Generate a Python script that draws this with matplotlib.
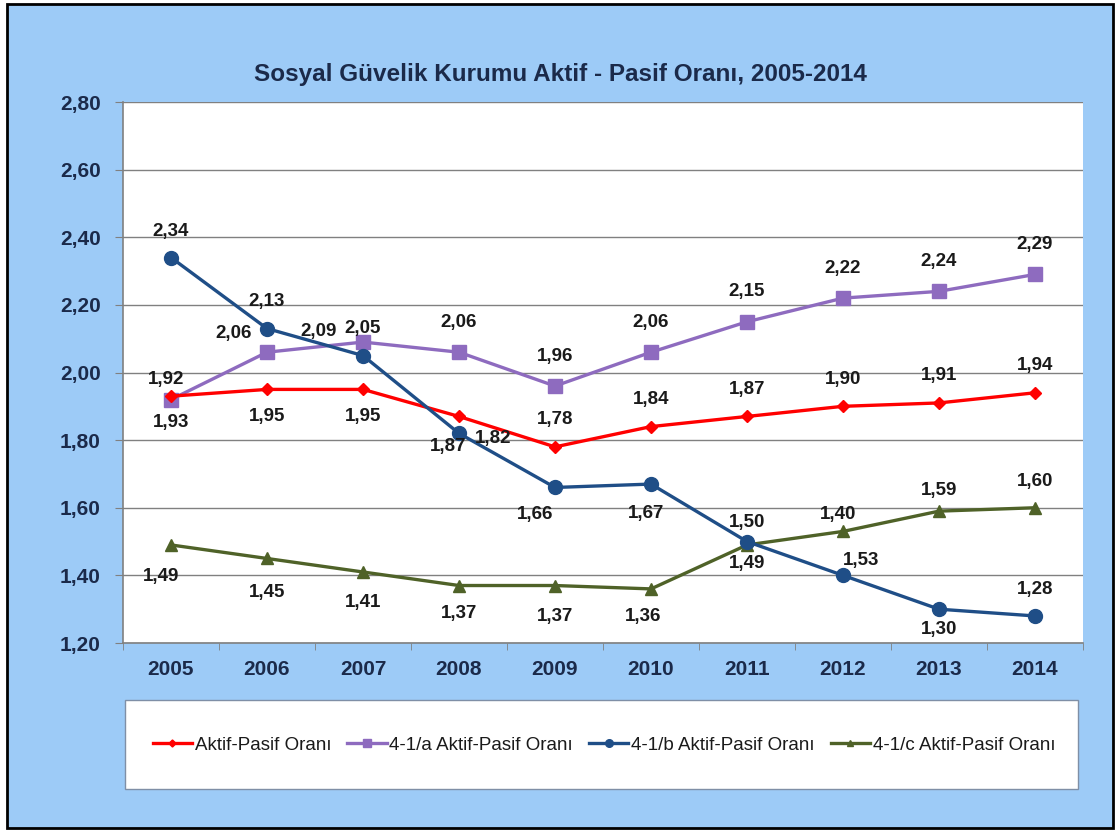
import matplotlib
matplotlib.use("Agg")
import matplotlib.pyplot as plt
from matplotlib.patches import Rectangle

years = ["2005", "2006", "2007", "2008", "2009", "2010", "2011", "2012", "2013", "2014"]
aktif_pasif = [1.93, 1.95, 1.95, 1.87, 1.78, 1.84, 1.87, 1.90, 1.91, 1.94]
a41 = [1.92, 2.06, 2.09, 2.06, 1.96, 2.06, 2.15, 2.22, 2.24, 2.29]
b41 = [2.34, 2.13, 2.05, 1.82, 1.66, 1.67, 1.50, 1.40, 1.30, 1.28]
c41 = [1.49, 1.45, 1.41, 1.37, 1.37, 1.36, 1.49, 1.53, 1.59, 1.60]
series_names = ["Aktif-Pasif Oranı", "4-1/a Aktif-Pasif Oranı",
                "4-1/b Aktif-Pasif Oranı", "4-1/c Aktif-Pasif Oranı"]
title = "Sosyal Güvelik Kurumu Aktif - Pasif Oranı, 2005-2014"
yticks = [1.20, 1.40, 1.60, 1.80, 2.00, 2.20, 2.40, 2.60, 2.80]

# label offsets in pixels (dx, dy) -- styling only
off_red = [(0, -26), (0, -27), (0, -27), (-11, -30), (0, 27), (0, 27), (0, 27), (0, 27), (0, 27), (0, 27)]
off_pur = [(-5, 20), (-33, 19), (-44, 11), (0, 30), (0, 30), (0, 30), (0, 30), (0, 30), (0, 30), (0, 30)]
off_blu = [(0, 26), (0, 27), (0, 27), (34, -5), (-20, -27), (-5, -29), (0, 19), (-5, 61), (0, -20), (0, 26)]
off_grn = [(-10, -32), (0, -34), (0, -31), (0, -28), (0, -31), (-8, -28), (0, -19), (18, -29), (0, 21), (0, 26)]

plt.rcParams['font.family'] = ['Liberation Sans', 'DejaVu Sans']

fig = plt.figure(figsize=(11.17, 8.32), dpi=100)
fig.patch.set_facecolor('white')
bg = '#9DCBF7'
fig.patches.append(Rectangle((7/1117, 4/832), 1106/1117, 824/832, transform=fig.transFigure,
                             facecolor=bg, edgecolor='black', linewidth=2, zorder=-10))
# legend box
fig.patches.append(Rectangle((125/1117, 1 - 789/832), 953/1117, 89/832, transform=fig.transFigure,
                             facecolor='white', edgecolor='#7F8FA6', linewidth=1, zorder=-5))

ax = fig.add_axes([123/1117, 1 - 643/832, 960/1117, 541/832])
ax.set_zorder(2)
ax.set_facecolor('white')
x = list(range(len(years)))

navy = '#1B2A4A'
colors = ['#FF0000', '#8E6BBF', '#1F4E87', '#4F6228']
markers = ['D', 's', 'o', '^']
msizes = [6.5, 9.5, 10, 8.5]
data = [aktif_pasif, a41, b41, c41]
offs = [off_red, off_pur, off_blu, off_grn]
zorders = [5, 4, 6, 3]

lines = []
for d, c, m, ms, nm, z in zip(data, colors, markers, msizes, series_names, zorders):
    ln, = ax.plot(x, d, color=c, marker=m, markersize=ms, linewidth=2.4, label=nm, zorder=z,
                  markeredgecolor=c)
    lines.append(ln)

for d, off in zip(data, offs):
    for xi, v, (dx, dy) in zip(x, d, off):
        ax.annotate(f"{v:.2f}".replace('.', ','), (xi, v), xytext=(dx, dy),
                    textcoords='offset pixels', ha='center', va='center',
                    fontsize=13.5, fontweight='bold', color='#1A1A1A', zorder=10)

ax.set_xlim(-0.5, len(years) - 0.5)
ax.set_ylim(1.2, 2.8)
ax.set_yticks(yticks)
ax.set_yticklabels([f"{t:.2f}".replace('.', ',') for t in yticks])
ax.set_xticks(x)
ax.set_xticklabels(years)
ax.set_xticks([i - 0.5 for i in range(len(years) + 1)], minor=True)
ax.tick_params(axis='x', which='major', length=0, pad=12)
ax.tick_params(axis='x', which='minor', length=5, color='#808080', direction='out')
ax.tick_params(axis='y', length=6, color='#808080', direction='out', pad=10)
for lab in ax.get_xticklabels() + ax.get_yticklabels():
    lab.set_fontweight('bold')
    lab.set_fontsize(15)
    lab.set_color(navy)
ax.grid(axis='y', color='#808080', linewidth=1)
ax.set_axisbelow(True)
for s in ['top', 'right']:
    ax.spines[s].set_visible(False)
for s in ['left', 'bottom']:
    ax.spines[s].set_color('#808080')
    ax.spines[s].set_linewidth(1.2)

fig.text(560/1117, 1 - 75/832, title, ha='center', va='center', fontsize=17.5,
         fontweight='bold', color=navy)

leg = fig.legend(handles=lines, labels=series_names, loc='center',
                 bbox_to_anchor=(604/1117, 1 - 745/832), ncol=4, frameon=False,
                 fontsize=13.5, handlelength=2.1, handletextpad=0.15, columnspacing=0.85,
                 markerscale=0.55)
for t in leg.get_texts():
    t.set_color('#1A1A1A')

fig.savefig('out.png', dpi=100, facecolor='white')
